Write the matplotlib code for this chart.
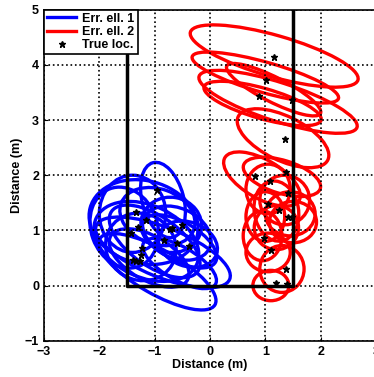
import matplotlib
matplotlib.use("Agg")
import matplotlib.pyplot as plt
from matplotlib.patches import Ellipse
from matplotlib.lines import Line2D

plt.rcParams['font.family'] = ['Liberation Sans', 'DejaVu Sans']
plt.rcParams['font.weight'] = 'bold'

# room outline
room_x = [-1.5, -1.5, 1.5, 1.5]
room_y = [5, 0, 0, 5]

# true locations
true1_x = [-1.34, -1.16, -1.31, -1.42, -0.95, -0.68, -0.50, -0.84, -0.59, -0.38, -1.22, -1.25, -1.34, -1.27, -0.72, -1.40]
true1_y = [1.34, 1.19, 1.07, 0.95, 1.73, 1.04, 1.10, 0.83, 0.77, 0.72, 0.68, 0.56, 0.44, 0.44, 1.02, 0.47]
true2_x = [1.16, 1.02, 0.89, 1.48, 1.35, 1.37, 0.81, 1.08, 1.41, 1.05, 1.25, 1.41, 1.49, 0.98, 1.11, 1.37, 1.19, 1.40]
true2_y = [4.14, 3.73, 3.43, 3.36, 2.65, 2.05, 1.98, 1.89, 1.67, 1.48, 1.37, 1.25, 1.25, 0.86, 0.65, 0.30, 0.05, 0.02]

# error ellipses 1 (center x, center y, width, height, angle)
e1_cx = [-1.2, -1.15, -0.95, -0.85, -1.4, -0.85, -0.6, -0.55, -1.0, -1.25, -0.7, -1.55, -0.4, -0.95, -1.1, -0.55]
e1_cy = [1.15, 0.8, 0.25, 1.55, 1.3, 0.6, 0.95, 0.8, 0.8, 0.7, 1.1, 1.05, 0.75, 1.25, 0.5, 0.4]
e1_w = [2.0, 2.0, 2.4, 0.75, 1.2, 2.6, 1.3, 1.5, 1.9, 1.3, 1.1, 1.2, 1.1, 1.4, 1.6, 1.5]
e1_h = [1.5, 1.3, 0.8, 1.4, 1.4, 0.9, 0.9, 0.7, 0.9, 1.2, 1.0, 1.5, 0.8, 1.0, 0.8, 0.6]
e1_ang = [-15, -25, -30, 15, 0, -22, -25, -30, -35, -30, -10, 20, -20, -20, -30, -30]

# error ellipses 2
e2_cx = [1.16, 1.0, 1.23, 0.95, 1.15, 1.32, 0.94, 1.3, 1.05, 1.35, 1.2, 1.45, 1.5, 1.0, 1.2, 0.95, 1.05, 1.3, 1.1]
e2_cy = [4.16, 3.77, 3.33, 3.3, 3.55, 2.67, 1.93, 1.97, 1.75, 1.55, 1.35, 1.3, 1.15, 1.25, 1.05, 0.9, 0.6, 0.3, 0.0]
e2_w = [3.15, 2.75, 3.0, 2.2, 1.9, 1.8, 1.55, 1.45, 0.8, 0.9, 0.8, 0.9, 0.85, 0.7, 0.8, 0.7, 0.8, 0.8, 0.65]
e2_h = [0.75, 0.55, 0.7, 0.55, 0.45, 0.8, 0.7, 0.6, 0.9, 0.9, 1.1, 0.8, 0.75, 0.9, 0.8, 0.9, 0.7, 0.85, 0.55]
e2_ang = [-16, -16, -18, -16, -27, -26, -30, -17, 0, -20, 10, 0, 0, 0, 0, 0, 0, 0, 0]

fig = plt.figure(figsize=(3.74, 3.77), dpi=100)
ax = fig.add_axes([44 / 374, 36.3 / 377, 332 / 374, 331 / 377])

for cx, cy, w, h, a in zip(e1_cx, e1_cy, e1_w, e1_h, e1_ang):
    ax.add_patch(Ellipse((cx, cy), w, h, angle=a, fill=False, ec='#0000ff', lw=2.4))
for cx, cy, w, h, a in zip(e2_cx, e2_cy, e2_w, e2_h, e2_ang):
    ax.add_patch(Ellipse((cx, cy), w, h, angle=a, fill=False, ec='#ff0000', lw=2.4))

ax.plot(room_x, room_y, color='k', lw=2.5)
ax.plot(true1_x, true1_y, 'k*', ms=5, ls='none')
ax.plot(true2_x, true2_y, 'k*', ms=5, ls='none')

ax.set_xlim(-3, 3)
ax.set_ylim(-1, 5)
ax.set_xticks(range(-3, 4))
ax.set_yticks(range(-1, 6))
ax.grid(True, color='k', ls=':', lw=1.2)
ax.tick_params(direction='in', labelsize=9, length=3)
for s in ax.spines.values():
    s.set_linewidth(1.2)
ax.set_xlabel('Distance (m)', fontsize=9, fontweight='bold', labelpad=1)
ax.set_ylabel('Distance (m)', fontsize=9, fontweight='bold', labelpad=1)

handles = [Line2D([], [], color='#0000ff', lw=2.4),
           Line2D([], [], color='#ff0000', lw=2.4),
           Line2D([], [], color='k', marker='*', ms=5, ls='none')]
leg = ax.legend(handles, ['Err. ell. 1', 'Err. ell. 2', 'True loc.'], loc='upper left',
                fontsize=9, framealpha=1, fancybox=False, edgecolor='k',
                borderaxespad=0, handlelength=2.3, handletextpad=0.5,
                labelspacing=0.1, borderpad=0.25)
leg.get_frame().set_linewidth(1.2)

fig.savefig('out.png', dpi=100)
